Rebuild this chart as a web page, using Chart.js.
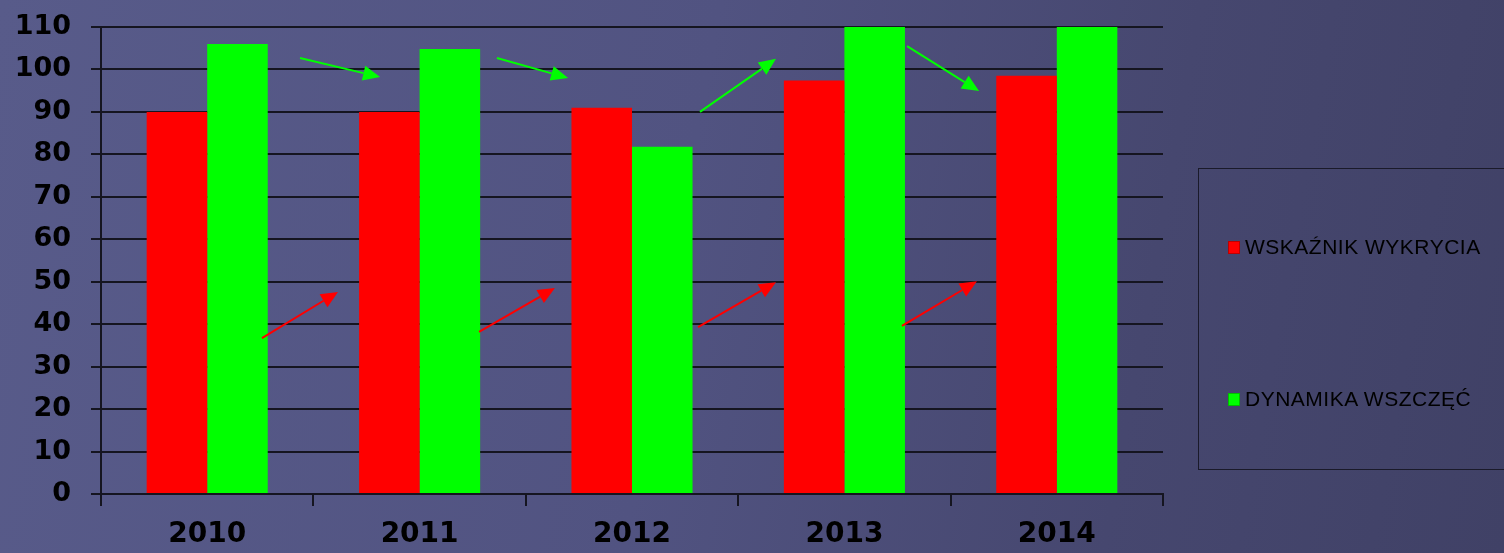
<!DOCTYPE html>
<html>
<head>
<meta charset="utf-8">
<script src="https://cdn.jsdelivr.net/npm/chart.js@4"></script>
<style>
  html, body { margin: 0; padding: 0; }
  body {
    width: 1504px; height: 553px; overflow: hidden; position: relative;
    background: linear-gradient(100deg, #585b8a 0%, #515381 45%, #46476f 75%, #404166 100%);
    font-family: "Liberation Sans", Arial, sans-serif;
  }
  #wrap { position: absolute; left: 0; top: 0; width: 1504px; height: 553px; }
  #legend {
    position: absolute; left: 1198px; top: 168px; width: 330px; height: 302px;
    border: 1px solid #1a1a2a; box-sizing: border-box;
  }
  .item { position: absolute; left: 29px; height: 16px; display: flex; align-items: center; }
  .sw { width: 12px; height: 13px; margin-right: 5px; box-sizing: border-box; border: 1px solid rgba(0,0,0,0.25); }
  .lbl { font-size: 21px; letter-spacing: 0.5px; color: #000; line-height: 16px; white-space: nowrap; }
</style>
</head>
<body>
<div id="wrap"><canvas id="c" width="1504" height="553"></canvas></div>
<div id="legend"></div>
<script>
const categories = ["2010", "2011", "2012", "2013", "2014"];
const seriesNames = ["WSKAŹNIK WYKRYCIA", "DYNAMIKA WSZCZĘĆ"];
const wskaznikWykrycia = [90, 90, 91, 97.4, 98.5];
const dynamikaWszczec = [106, 104.8, 81.8, 110, 110];
const seriesColors = ["#ff0000", "#00ff00"];
const yTicks = [0, 10, 20, 30, 40, 50, 60, 70, 80, 90, 100, 110];
// decorative trend arrows, in data units: [xFrom, yFrom, xTo, yTo, colour]
const arrows = [
  [0.258, 36.7, 0.616, 47.6, "#ff0000"],
  [1.28, 38.2, 1.637, 48.5, "#ff0000"],
  [2.311, 39.3, 2.678, 49.9, "#ff0000"],
  [3.271, 39.6, 3.624, 50.1, "#ff0000"],
  [0.437, 102.7, 0.814, 98.2, "#00ff00"],
  [1.364, 102.7, 1.699, 98.0, "#00ff00"],
  [2.32, 90.0, 2.678, 102.5, "#00ff00"],
  [3.295, 105.5, 3.634, 94.9, "#00ff00"]
];

const arrowPlugin = {
  id: 'arrows',
  afterDatasetsDraw(chart) {
    const ctx = chart.ctx, xs = chart.scales.x, ys = chart.scales.y;
    ctx.save();
    arrows.forEach(a => {
      const x1 = xs.getPixelForValue(a[0]), y1 = ys.getPixelForValue(a[1]);
      const x2 = xs.getPixelForValue(a[2]), y2 = ys.getPixelForValue(a[3]);
      const ang = Math.atan2(y2 - y1, x2 - x1);
      const hl = 17, hw = 7.5;
      const bx = x2 - hl * Math.cos(ang), by = y2 - hl * Math.sin(ang);
      ctx.strokeStyle = a[4]; ctx.fillStyle = a[4]; ctx.lineWidth = 2;
      ctx.beginPath(); ctx.moveTo(x1, y1); ctx.lineTo(bx, by); ctx.stroke();
      ctx.beginPath();
      ctx.moveTo(x2, y2);
      ctx.lineTo(bx + hw * Math.sin(ang), by - hw * Math.cos(ang));
      ctx.lineTo(bx - hw * Math.sin(ang), by + hw * Math.cos(ang));
      ctx.closePath(); ctx.fill();
    });
    ctx.restore();
  }
};

new Chart(document.getElementById('c'), {
  type: 'bar',
  data: {
    labels: categories,
    datasets: [
      { label: seriesNames[0], data: wskaznikWykrycia, backgroundColor: seriesColors[0], borderWidth: 0 },
      { label: seriesNames[1], data: dynamikaWszczec, backgroundColor: seriesColors[1], borderWidth: 0 }
    ]
  },
  options: {
    responsive: false,
    animation: false,
    categoryPercentage: 0.57,
    barPercentage: 1.0,
    layout: { padding: { left: 0, right: 341, top: 27, bottom: 0 } },
    plugins: { legend: { display: false }, tooltip: { enabled: false } },
    scales: {
      x: {
        grid: {
          display: true,
          drawOnChartArea: true,
          color: ctx => (ctx.index === categories.length ? '#151520' : 'rgba(0,0,0,0)'),
          tickColor: '#151520',
          tickLength: 12,
          lineWidth: 2
        },
        border: { display: true, color: '#151520', width: 2 },
        ticks: {
          color: '#000',
          padding: 12,
          font: { family: 'DejaVu Sans', weight: 'bold', size: 28 }
        },
        afterFit: s => { s.height = 59; s.paddingLeft = 0; s.paddingRight = 0; }
      },
      y: {
        min: 0, max: 110,
        afterBuildTicks: s => { s.ticks = yTicks.map(v => ({ value: v })); },
        grid: { color: '#151520', lineWidth: 2, tickLength: 10, tickColor: '#151520' },
        border: { display: true, color: '#151520', width: 2 },
        ticks: {
          color: '#000',
          padding: 20,
          font: { family: 'DejaVu Sans', weight: 'bold', size: 27 }
        },
        afterFit: s => { s.width = 101; s.paddingTop = 0; s.paddingBottom = 0; }
      }
    }
  },
  plugins: [arrowPlugin]
});

const legend = document.getElementById('legend');
const tops = [70, 222];
seriesNames.forEach((n, i) => {
  const it = document.createElement('div');
  it.className = 'item';
  it.style.top = tops[i] + 'px';
  it.innerHTML = '<div class="sw" style="background:' + seriesColors[i] + '"></div><div class="lbl"></div>';
  it.querySelector('.lbl').textContent = n;
  legend.appendChild(it);
});
</script>
</body>
</html>
